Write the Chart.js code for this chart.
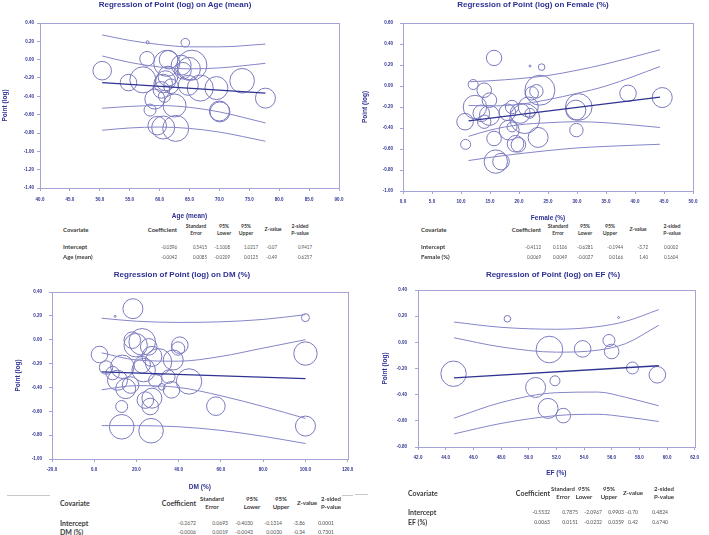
<!DOCTYPE html>
<html>
<head>
<meta charset="utf-8">
<script src="https://cdn.jsdelivr.net/npm/chart.js@4.4.1/dist/chart.umd.min.js"></script>
<style>
body { margin: 0; width: 709px; height: 535px; background: #fff; position: relative; overflow: hidden; font-family: "Liberation Sans", Arial, sans-serif; }
canvas { position: absolute; }
.t { position: absolute; white-space: nowrap; line-height: 1; z-index: 2; }
.title { color: #2e3192; font-weight: bold; font-size: 8px; }
.th { font-family: Lato, "Open Sans", sans-serif; color: #3a3a3a; font-weight: bold; }
.td { font-family: Lato, "Open Sans", sans-serif; color: #555; }
.rule { position: absolute; height: 1px; background: #c8c8c8; }
</style>
</head>
<body>
<script>
// ---- Age (mean) ----
var ageX = [50.4, 54.8, 57.2, 57.9, 58.0, 58.4, 59.6, 59.2, 60.6, 62.7, 62.5, 61.2, 61.5, 61.4, 60.6, 60.3, 60.8, 61.9, 63.6, 63.9, 64.3, 65.4, 64.9, 66.8, 64.8, 69.5, 70.0, 70.1, 73.8, 77.7, 61.0];
var ageY = [-0.12, -0.25, -0.22, 0.01, 0.19, -0.55, -0.72, -0.43, -0.74, -0.75, -0.50, -0.04, 0.00, -0.18, -0.26, -0.33, -0.40, -0.29, -0.06, -0.12, 0.185, -0.06, -0.10, -0.31, -0.28, -0.31, -0.56, -0.57, -0.23, -0.42, -0.23];
var ageWeight = [9.3, 8.3, 13, 7.3, 1.5, 6, 9.3, 10, 11.5, 13, 11.5, 13, 9.3, 10, 9.3, 8.3, 6, 7.3, 10, 8.3, 4.3, 15, 11.5, 13, 10, 11.5, 10, 10, 12.3, 10, 10];
var ageFitX = [50.4, 77.7];
var ageFit = [-0.251, -0.366];
var ageBandX = [50.4, 55, 60, 65, 70, 77.7];
var agePiHi = [0.27, 0.21, 0.165, 0.14, 0.14, 0.17];
var ageCiHi = [0.04, -0.03, -0.08, -0.10, -0.09, -0.04];
var ageCiLo = [-0.53, -0.51, -0.50, -0.52, -0.57, -0.69];
var agePiLo = [-0.77, -0.745, -0.735, -0.75, -0.79, -0.89];
var ageTicksX = [40, 45, 50, 55, 60, 65, 70, 75, 80, 85, 90];
var ageTicksY = [-1.4, -1.2, -1.0, -0.8, -0.6, -0.4, -0.2, 0, 0.2, 0.4];

// ---- Female (%) ----
var femX = [15.7, 12.1, 10.8, 10.7, 12.4, 14.0, 14.9, 13.5, 14.0, 14.9, 15.7, 16.0, 16.9, 18.0, 18.8, 18.3, 18.8, 19.4, 19.9, 20.2, 21.0, 21.6, 21.9, 22.2, 23.0, 23.6, 23.9, 21.9, 23.3, 29.8, 30.3, 29.9, 38.8, 44.7];
var femY = [0.267, 0.014, -0.556, -0.34, -0.20, -0.04, -0.135, -0.26, -0.34, -0.28, -0.50, -0.72, -0.72, -0.25, -0.20, -0.42, -0.39, -0.55, -0.56, -0.26, -0.31, -0.20, -0.26, -0.07, -0.05, -0.04, 0.18, 0.19, -0.49, -0.23, -0.20, -0.42, -0.07, -0.11];
var femWeight = [7.7, 5, 5, 8.3, 11.7, 7.3, 7.3, 8.3, 6.7, 10, 7.3, 11.7, 8.3, 8.3, 6.7, 10, 5, 8.3, 7.3, 10, 15, 10, 5, 6.7, 6.7, 15, 3.3, 1, 10, 10, 13.3, 6.7, 8.3, 10];
var femFitX = [11.3, 44.3];
var femFit = [-0.333, -0.105];
var femBandX = [11.3, 15, 20, 25, 30, 35, 44.3];
var femPiHi = [0.04, 0.05, 0.07, 0.10, 0.15, 0.21, 0.345];
var femCiHi = [-0.185, -0.19, -0.175, -0.13, -0.07, 0.0, 0.185];
var femCiLo = [-0.48, -0.42, -0.37, -0.35, -0.34, -0.35, -0.395];
var femPiLo = [-0.71, -0.68, -0.645, -0.615, -0.59, -0.575, -0.555];
var femTicksX = [0, 5, 10, 15, 20, 25, 30, 35, 40, 45, 50];
var femTicksY = [-1.0, -0.8, -0.6, -0.4, -0.2, 0, 0.2, 0.4, 0.6];

// ---- DM (%) ----
var dmX = [18.3, 9.9, 100, 100, 100, 2.5, 5.6, 8.7, 13.3, 13.0, 13.0, 14.9, 11.0, 18.0, 19.6, 22.7, 22.7, 23.4, 25.8, 27.3, 30.4, 24.2, 26.5, 27.3, 26.9, 28.9, 32.0, 35.1, 36.6, 37.4, 40.5, 39.7, 44.9, 57.6, 17.2];
var dmY = [0.26, 0.196, 0.185, -0.116, -0.724, -0.124, -0.233, -0.28, -0.227, -0.56, -0.73, -0.41, -0.34, -0.004, -0.046, -0.018, -0.21, -0.255, -0.06, -0.14, -0.186, -0.506, -0.56, -0.49, -0.763, -0.34, -0.395, -0.31, -0.42, -0.17, -0.046, -0.074, -0.35, -0.557, -0.38];
var dmWeight = [10, 1, 4, 11.7, 10, 8.3, 6.7, 6.7, 11.7, 6, 12.3, 10, 10, 8.3, 11.7, 13.3, 8.3, 11.7, 8.3, 10, 13.3, 8.3, 8.3, 10, 12.3, 6.7, 3.3, 6.7, 8.3, 10, 8.3, 6.7, 12.7, 9.3, 8.3];
var dmFitX = [3.5, 100];
var dmFit = [-0.269, -0.327];
var dmBandX = [3.5, 20, 40, 60, 80, 100];
var dmPiHi = [0.18, 0.155, 0.145, 0.15, 0.17, 0.21];
var dmCiHi = [-0.11, -0.17, -0.18, -0.14, -0.07, 0.0];
var dmCiLo = [-0.42, -0.385, -0.40, -0.47, -0.56, -0.66];
var dmPiLo = [-0.72, -0.72, -0.73, -0.76, -0.81, -0.87];
var dmTicksX = [-20, 0, 20, 40, 60, 80, 100, 120];
var dmTicksY = [-1.0, -0.8, -0.6, -0.4, -0.2, 0, 0.2, 0.4];

// ---- EF (%) ----
var efX = [44.57, 48.46, 51.5, 53.9, 55.8, 56.0, 56.5, 57.5, 59.3, 50.5, 51.9, 51.4, 52.5];
var efY = [-0.24, 0.18, -0.055, -0.05, 0.014, -0.07, 0.19, -0.196, -0.248, -0.345, -0.294, -0.505, -0.56];
var efWeight = [12.7, 3.3, 13.3, 8.3, 6, 7.3, 1, 6, 8.3, 10, 5, 10, 7.3];
var efFitX = [44.6, 59.4];
var efFit = [-0.272, -0.179];
var efBandX = [44.6, 48, 52, 55, 57, 59.4];
var efPiHi = [0.155, 0.115, 0.10, 0.12, 0.16, 0.25];
var efCiHi = [0.035, -0.035, -0.075, -0.06, -0.01, 0.13];
var efCiLo = [-0.58, -0.46, -0.385, -0.38, -0.42, -0.485];
var efPiLo = [-0.70, -0.62, -0.56, -0.55, -0.57, -0.605];
var efTicksX = [42, 44, 46, 48, 50, 52, 54, 56, 58, 60, 62];
var efTicksY = [-0.8, -0.6, -0.4, -0.2, 0, 0.2, 0.4];

// ---- tables ----
var tableHead = [["Coefficient"], ["Standard", "Error"], ["95%", "Lower"], ["95%", "Upper"], ["Z-value"], ["2-sided", "P-value"]];
var ageTable = [["Intercept", "-0.0396", "0.5415", "-1.1008", "1.0217", "-0.07", "0.9417"], ["Age (mean)", "-0.0042", "0.0085", "-0.0209", "0.0125", "-0.49", "0.6257"]];
var femTable = [["Intercept", "-0.4112", "0.1106", "-0.6281", "-0.1944", "-3.72", "0.0002"], ["Female (%)", "0.0069", "0.0049", "-0.0027", "0.0166", "1.40", "0.1604"]];
var dmTable = [["Intercept", "-0.2672", "0.0693", "-0.4030", "-0.1314", "-3.86", "0.0001"], ["DM (%)", "-0.0006", "0.0019", "-0.0043", "0.0030", "-0.34", "0.7301"]];
var efTable = [["Intercept", "-0.5532", "0.7875", "-2.0967", "0.9903", "-0.70", "0.4824"], ["EF (%)", "0.0063", "0.0151", "-0.0232", "0.0359", "0.42", "0.6740"]];

var navy = '#2e3192';
var curveCol = '#8585c8';
var fitCol = '#2f3391';
var bubbleCol = '#7a7abf';
var frameCol = '#a3a3d6';

var frame = {
    id: 'frame',
    beforeDatasetsDraw: function (c) {
        var a = c.chartArea, ctx = c.ctx;
        ctx.save();
        ctx.strokeStyle = frameCol;
        ctx.lineWidth = 1;
        ctx.strokeRect(Math.round(a.left) + 0.5, Math.round(a.top) + 0.5, Math.round(a.right - a.left), Math.round(a.bottom - a.top));
        ctx.restore();
    }
};

function pts(xs, ys) {
    return xs.map(function (x, i) { return { x: x, y: ys[i] }; });
}

function addText(txt, x, y, cls, align, size, squeeze) {
    var d = document.createElement('div');
    d.className = 't ' + cls;
    d.textContent = txt;
    d.style.left = x + 'px';
    d.style.top = y + 'px';
    if (size) d.style.fontSize = size + 'px';
    var tx = align === 'right' ? '-100%' : (align === 'center' ? '-50%' : '0');
    var tf = 'translate(' + tx + ',-50%)';
    if (squeeze) {
        tf += ' scaleX(' + squeeze + ')';
        d.style.transformOrigin = 'right center';
    }
    d.style.transform = tf;
    document.body.appendChild(d);
}

function panel(p) {
    var lh = 7.8; // axis title line height (6.5px * 1.2)
    var box = p.box, area = p.area;
    var h = p.xTitleY + lh / 2 - box[1];
    var cv = document.createElement('canvas');
    cv.width = box[2];
    cv.height = Math.round(h);
    cv.style.left = box[0] + 'px';
    cv.style.top = box[1] + 'px';
    document.body.appendChild(cv);

    var padL = p.yTitleX - lh / 2 - box[0];
    var padT = area[2] - box[1];
    var padR = box[0] + box[2] - area[1];
    var yW = area[0] - box[0] - padL;
    var xH = Math.round(h) - (area[3] - box[1]);
    var tickFont = { family: 'Liberation Sans', size: 4.5, weight: 'bold' };
    var titleFont = { family: 'Liberation Sans', size: 6.5, weight: 'bold', lineHeight: 1.2 };
    var band = { type: 'line', borderColor: curveCol, borderWidth: 1, pointRadius: 0, cubicInterpolationMode: 'monotone', fill: false };

    new Chart(cv, {
        type: 'bubble',
        data: {
            datasets: [
                Object.assign({ data: pts(p.bandX, p.piHi) }, band),
                Object.assign({ data: pts(p.bandX, p.ciHi) }, band),
                Object.assign({ data: pts(p.bandX, p.ciLo) }, band),
                Object.assign({ data: pts(p.bandX, p.piLo) }, band),
                { type: 'line', data: pts(p.fitX, p.fit), borderColor: fitCol, borderWidth: 1.3, pointRadius: 0 },
                {
                    data: p.x.map(function (x, i) { return { x: x, y: p.y[i], r: p.w[i] }; }),
                    backgroundColor: 'rgba(0,0,0,0)', borderColor: bubbleCol, borderWidth: 1
                }
            ]
        },
        options: {
            responsive: false,
            animation: false,
            events: [],
            layout: { padding: { left: padL, top: padT, right: padR, bottom: 0 } },
            plugins: { legend: { display: false }, title: { display: false }, tooltip: { enabled: false } },
            scales: {
                x: {
                    type: 'linear', min: p.ticksX[0], max: p.ticksX[p.ticksX.length - 1],
                    afterBuildTicks: function (s) { s.ticks = p.ticksX.map(function (v) { return { value: v }; }); },
                    ticks: { callback: function (v) { return v.toFixed(1); }, font: tickFont, color: navy, padding: p.xPad, maxRotation: 0, autoSkip: false },
                    grid: { drawOnChartArea: false, drawTicks: true, tickLength: 3, color: frameCol },
                    border: { color: frameCol },
                    title: { display: true, text: p.xTitle, font: titleFont, color: navy, padding: 0 },
                    afterFit: function (s) { s.height = xH; s.paddingLeft = 0; s.paddingRight = 0; }
                },
                y: {
                    type: 'linear', min: p.ticksY[0], max: p.ticksY[p.ticksY.length - 1],
                    afterBuildTicks: function (s) { s.ticks = p.ticksY.map(function (v) { return { value: v }; }); },
                    ticks: { callback: function (v) { return v.toFixed(2); }, font: tickFont, color: navy, padding: p.yPad, autoSkip: false },
                    grid: { drawOnChartArea: false, drawTicks: true, tickLength: 3, color: frameCol },
                    border: { color: frameCol },
                    title: { display: true, text: 'Point (log)', font: titleFont, color: navy, padding: 0 },
                    afterFit: function (s) { s.width = yW; s.paddingTop = 0; s.paddingBottom = 0; }
                }
            }
        },
        plugins: [frame]
    });
    addText(p.title, p.titlePos[0], p.titlePos[1], 'title', 'center');
}

function drawTable(rows, s) {
    var sub = s.size * 0.86;
    addText('Covariate', s.labelX, s.midY, 'th', 'left', s.size);
    tableHead.forEach(function (hd, j) {
        if (j === 0) addText(hd[0], s.rights[0], s.midY, 'th', 'right', s.size);
        else if (hd.length === 1) addText(hd[0], s.centers[j], s.midY, 'th', 'center', sub);
        else {
            addText(hd[0], s.centers[j], s.h1Y, 'th', 'center', sub);
            addText(hd[1], s.centers[j], s.h2Y, 'th', 'center', sub);
        }
    });
    rows.forEach(function (r, i) {
        addText(r[0], s.labelX, s.rowsY[i], 'th', 'left', s.size);
        for (var j = 1; j < r.length; j++) addText(r[j], s.rights[j - 1], s.rowsY[i], 'td', 'right', s.numSize, 0.8);
    });
}

panel({
    box: [0, 0, 355], area: [40, 352, 23, 188], yTitleX: 5, xTitleY: 216, xPad: 6, yPad: 3,
    title: 'Regression of Point (log) on Age (mean)', titlePos: [175, 5], xTitle: 'Age (mean)',
    x: ageX, y: ageY, w: ageWeight, fitX: ageFitX, fit: ageFit, bandX: ageBandX,
    piHi: agePiHi, ciHi: ageCiHi, ciLo: ageCiLo, piLo: agePiLo, ticksX: ageTicksX, ticksY: ageTicksY
});
panel({
    box: [355, 0, 354], area: [403, 700, 23, 191], yTitleX: 365, xTitleY: 218, xPad: 5, yPad: 7,
    title: 'Regression of Point (log) on Female (%)', titlePos: [533, 5], xTitle: 'Female (%)',
    x: femX, y: femY, w: femWeight, fitX: femFitX, fit: femFit, bandX: femBandX,
    piHi: femPiHi, ciHi: femCiHi, ciLo: femCiLo, piLo: femPiLo, ticksX: femTicksX, ticksY: femTicksY
});
panel({
    box: [0, 262, 362], area: [52, 352, 292, 459], yTitleX: 18, xTitleY: 487, xPad: 5, yPad: 7,
    title: 'Regression of Point (log) on DM (%)', titlePos: [182, 275], xTitle: 'DM (%)',
    x: dmX, y: dmY, w: dmWeight, fitX: dmFitX, fit: dmFit, bandX: dmBandX,
    piHi: dmPiHi, ciHi: dmCiHi, ciLo: dmCiLo, piLo: dmPiLo, ticksX: dmTicksX, ticksY: dmTicksY
});
panel({
    box: [355, 262, 354], area: [418, 698, 290, 447], yTitleX: 385, xTitleY: 473, xPad: 5, yPad: 8,
    title: 'Regression of Point (log) on EF (%)', titlePos: [553, 275], xTitle: 'EF (%)',
    x: efX, y: efY, w: efWeight, fitX: efFitX, fit: efFit, bandX: efBandX,
    piHi: efPiHi, ciHi: efCiHi, ciLo: efCiLo, piLo: efPiLo, ticksX: efTicksX, ticksY: efTicksY
});

drawTable(ageTable, { size: 6, numSize: 5.6, labelX: 63, midY: 230, h1Y: 227, h2Y: 234, rowsY: [247, 257],
    rights: [177, 207, 230, 258, 277, 312], centers: [0, 196, 224, 246, 273, 300] });
drawTable(femTable, { size: 6, numSize: 5.6, labelX: 421, midY: 230, h1Y: 227, h2Y: 234, rowsY: [247, 257],
    rights: [541, 567, 593, 623, 648, 678], centers: [0, 558, 585, 610, 638, 672] });
drawTable(dmTable, { size: 7, numSize: 6.3, labelX: 60, midY: 503, h1Y: 499, h2Y: 507, rowsY: [523, 532],
    rights: [196, 228, 253, 282, 305, 334], centers: [0, 212, 252, 281, 307, 331] });
drawTable(efTable, { size: 7, numSize: 6.3, labelX: 408, midY: 493, h1Y: 489, h2Y: 497, rowsY: [512, 522],
    rights: [550, 578, 602, 624, 638, 668], centers: [0, 563, 584, 609, 633, 664] });

[[7, 495, 43], [342, 495, 11], [355, 494, 13]].forEach(function (r) {
    var d = document.createElement('div');
    d.className = 'rule';
    d.style.left = r[0] + 'px'; d.style.top = r[1] + 'px'; d.style.width = r[2] + 'px';
    document.body.appendChild(d);
});
</script>
</body>
</html>
